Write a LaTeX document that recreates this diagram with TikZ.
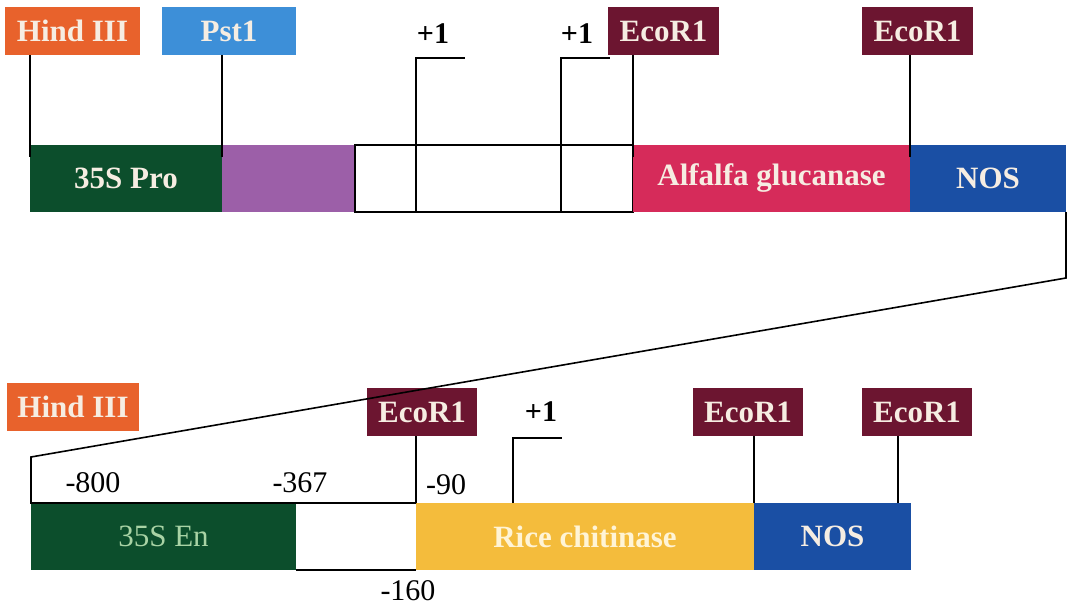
\documentclass[tikz,border=0pt]{standalone}
\usepackage{fontspec}
\setmainfont{Liberation Serif}
\usetikzlibrary{chains,positioning}

\definecolor{hindcol}{HTML}{E8622C}
\definecolor{pstcol}{HTML}{3D8FD8}
\definecolor{ecocol}{HTML}{6C1530}
\definecolor{procol}{HTML}{0C4E2C}
\definecolor{purpcol}{HTML}{9C5FA8}
\definecolor{glucol}{HTML}{D62B5A}
\definecolor{noscol}{HTML}{1A4FA4}
\definecolor{ricecol}{HTML}{F4BC3C}
\definecolor{labcol}{HTML}{F6EDE2}
\definecolor{enlab}{HTML}{A9D3A5}
\definecolor{ricelab}{HTML}{FFF4D6}

\begin{document}
\begin{tikzpicture}[x=1pt,y=-1pt]
            \tikzstyle{part}=[minimum height=67pt,inner sep=0pt,outer sep=0pt,text=labcol,font=\fontsize{31}{36}\selectfont\bfseries]
            \tikzstyle{site}=[minimum height=48pt,inner sep=0pt,outer sep=0pt,text=labcol,font=\fontsize{31}{36}\selectfont\bfseries]
            \tikzstyle{num}=[inner sep=0pt,font=\fontsize{30}{36}\selectfont]
            \tikzstyle{tsslab}=[inner sep=0pt,font=\fontsize{30}{36}\selectfont\bfseries]
            \tikzstyle{cut}=[line width=1.6pt]
            \tikzstyle{tss}=[line width=1.6pt]

            \useasboundingbox (0,0) rectangle (1068,610);

            % upper construct
            \begin{scope}[start chain=1 going right,node distance=0pt]
                \node [on chain=1,part,fill=procol,minimum width=192pt,anchor=north west] (pro) at (30,145) {35S Pro};
                \node [on chain=1,part,fill=purpcol,minimum width=133pt] (purp) {};
                \node [on chain=1,part,draw=black,line width=1.6pt,minimum width=278pt] (blank) {};
                \node [on chain=1,part,fill=glucol,minimum width=277pt] (glu) {Alfalfa glucanase};
                \node [on chain=1,part,fill=noscol,minimum width=156pt] (nos) {NOS};
            \end{scope}

            % lower construct
            \begin{scope}[start chain=2 going right,node distance=0pt]
                \node [on chain=2,part,fill=procol,minimum width=265pt,anchor=north west,text=enlab,font=\fontsize{31}{36}\selectfont] (en) at (31,503) {35S En};
                \node [on chain=2,part,minimum width=120pt] (gap) {};
                \node [on chain=2,part,fill=ricecol,minimum width=338pt,text=ricelab] (rice) {Rice chitinase};
                \node [on chain=2,part,fill=noscol,minimum width=157pt] (nos2) {NOS};
            \end{scope}

            % restriction sites
            \node [site,fill=hindcol,minimum width=135pt,anchor=north west] (hind1) at (5,7) {Hind III};
            \node [site,fill=pstcol,minimum width=134pt,anchor=north west] (pst) at (162,7) {Pst1};
            \node [site,fill=ecocol,minimum width=111pt,anchor=north west] (eco1) at (608,7) {EcoR1};
            \node [site,fill=ecocol,minimum width=111pt,anchor=north west] (eco2) at (862,7) {EcoR1};
            \node [site,fill=hindcol,minimum width=132pt,anchor=north west] (hind2) at (7,383) {Hind III};
            \node [site,fill=ecocol,minimum width=110pt,anchor=north west] (eco3) at (367,388) {EcoR1};
            \node [site,fill=ecocol,minimum width=110pt,anchor=north west] (eco4) at (693,388) {EcoR1};
            \node [site,fill=ecocol,minimum width=110pt,anchor=north west] (eco5) at (862,388) {EcoR1};

            \draw [cut,shorten >=-12pt] (pro.north west |- hind1.south) -- (pro.north west);
            \draw [cut,shorten >=-12pt] (pro.north east |- pst.south) -- (pro.north east);
            \draw [cut,shorten >=-12pt] (glu.north west |- eco1.south) -- (glu.north west);
            \draw [cut,shorten >=-12pt] (nos.north west |- eco2.south) -- (nos.north west);
            \coordinate (cut5) at (898,503);
            \draw [cut] (gap.north east |- eco3.south) -- (gap.north east);
            \draw [cut] (rice.north east |- eco4.south) -- (rice.north east);
            \draw [cut] (cut5 |- eco5.south) -- (cut5);

            % transcription starts
            \coordinate (tss1) at (416,212);
            \coordinate (tss2) at (561,212);
            \coordinate (tss3) at (513,503);
            \draw [tss] (tss1) |- ++(49,-154) coordinate (tss1e);
            \draw [tss] (tss2) |- ++(49,-154) coordinate (tss2e);
            \draw [tss] (tss3) |- ++(49,-65) coordinate (tss3e);
            \node [tsslab] (plus1) at (433,34) {+1};
            \node [tsslab] (plus2) at (577,34) {+1};
            \node [tsslab] (plus3) at (541,412) {+1};

            % zoom of the promoter
            \coordinate (zoomr) at (1066,278);
            \coordinate (zooml) at (31,457);
            \draw [tss] (nos.south east) -- (zoomr) -- (zooml) -- (en.north west) -- (gap.north east);
            \draw [tss] (gap.south west) -- (gap.south east);

            \node [num] (m800) at (93,483) {-800};
            \node [num] (m367) at (300,483) {-367};
            \node [num] (m90) at (446,485) {-90};
            \node [num] (m160) at (408,591) {-160};
        \end{tikzpicture}
\end{document}
